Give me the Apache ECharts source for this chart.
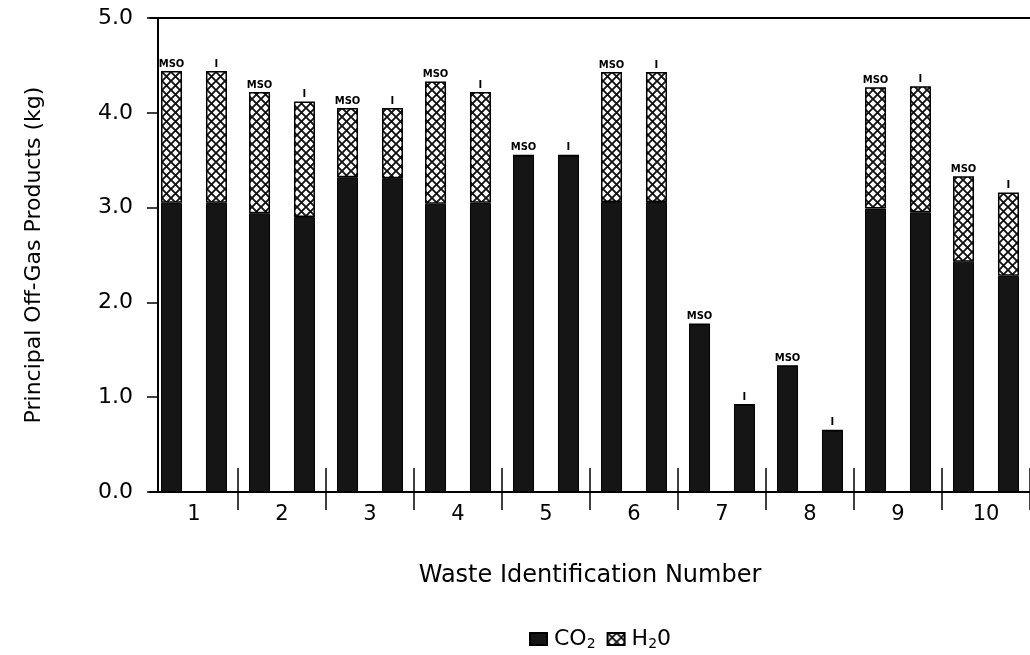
<!DOCTYPE html>
<html><head><meta charset="utf-8">
<script src="https://cdn.jsdelivr.net/npm/echarts@6/dist/echarts.min.js"></script>
<style>html,body{margin:0;padding:0;background:#fff}#c{width:1030px;height:655px}</style>
</head><body><div id="c"></div>
<script>
// ---- data ----
const categories = ['1','2','3','4','5','6','7','8','9','10'];
const co2Mso = [3.05, 2.94, 3.32, 3.04, 3.55, 3.06, 1.77, 1.33, 2.99, 2.43];
const h2oMso = [1.39, 1.28, 0.73, 1.29, 0.00, 1.37, 0.00, 0.00, 1.28, 0.90];
const co2I   = [3.05, 2.90, 3.31, 3.05, 3.55, 3.06, 0.92, 0.65, 2.95, 2.28];
const h2oI   = [1.39, 1.22, 0.74, 1.17, 0.00, 1.37, 0.00, 0.00, 1.33, 0.88];
const yTickLabels = ['0.0','1.0','2.0','3.0','4.0','5.0'];
const barTags = ['MSO','I'];

function hatch(){
  const s = 9;
  const c = document.createElement('canvas'); c.width = s; c.height = s;
  const g = c.getContext('2d');
  g.fillStyle = '#fff'; g.fillRect(0,0,s,s);
  g.strokeStyle = '#111'; g.lineWidth = 1.9;
  g.beginPath();
  g.moveTo(-1,-1); g.lineTo(s+1,s+1);
  g.moveTo(s+1,-1); g.lineTo(-1,s+1);
  g.stroke();
  return c;
}
const hatchFill = {image: hatch(), repeat: 'repeat'};
const FONT = 'DejaVu Sans';
const dark = '#151515';

const chart = echarts.init(document.getElementById('c'), null, {renderer:'canvas'});
const tickHide = (i) => i !== 0;
const barCommon = {type:'bar', barWidth:21, barGap:'114%'};
const tagLabel = (t) => ({show:true, position:'top', distance:2, formatter:t, color:'#000',
  fontSize:10, fontWeight:'bold', fontFamily:FONT});

chart.setOption({
  animation:false,
  backgroundColor:'#fff',
  grid:{left:150, right:-13, top:18, bottom:163, containLabel:false},
  legend:{
    data:['CO2','H20'], left:524, top:623, itemWidth:17, itemHeight:12, itemGap:11,
    icon:'rect', selectedMode:false,
    formatter:(n)=> n==='CO2' ? 'CO{s|2}' : 'H{s|2}0',
    textStyle:{color:'#000', fontSize:22, fontFamily:FONT, padding:[0,0,0,2],
      rich:{s:{fontSize:14, fontFamily:FONT, color:'#000', padding:[10,0,0,0]}}}
  },
  xAxis:[
    {type:'category', data:categories, position:'bottom',
     axisLine:{show:true, lineStyle:{color:'#000', width:2}},
     axisTick:{show:true, length:18, interval:tickHide, lineStyle:{color:'#000', width:1.5}},
     axisLabel:{color:'#000', fontSize:21, margin:12, fontFamily:FONT},
     name:'Waste Identification Number', nameLocation:'middle', nameGap:72,
     nameTextStyle:{color:'#000', fontSize:24, fontFamily:FONT}},
    {type:'category', data:categories, position:'bottom',
     axisLine:{show:false},
     axisTick:{show:true, inside:true, length:24, interval:tickHide, lineStyle:{color:'#000', width:1.5}},
     axisLabel:{show:false}},
    {type:'category', data:categories, position:'top',
     axisLine:{show:true, lineStyle:{color:'#000', width:2}},
     axisTick:{show:false}, axisLabel:{show:false}}
  ],
  yAxis:{
    type:'value', min:0, max:5, interval:1, offset:-8,
    axisLine:{show:true, lineStyle:{color:'#000', width:2}},
    axisTick:{show:true, length:11, lineStyle:{color:'#000', width:1.5}},
    splitLine:{show:false},
    axisLabel:{color:'#000', fontSize:22, margin:25, fontFamily:FONT,
      formatter:(v)=> yTickLabels[Math.round(v)]},
    name:'Principal Off-Gas Products (kg)', nameLocation:'middle', nameGap:113, nameRotate:90,
    nameTextStyle:{color:'#000', fontSize:22, fontFamily:FONT}
  },
  series:[
    Object.assign({}, barCommon, {name:'CO2', stack:'mso', data:co2Mso,
      itemStyle:{color:dark, borderColor:'#000', borderWidth:1}}),
    Object.assign({}, barCommon, {name:'H20', stack:'mso', data:h2oMso,
      itemStyle:{color:hatchFill, borderColor:'#000', borderWidth:1.5},
      label:tagLabel(barTags[0])}),
    Object.assign({}, barCommon, {name:'CO2', stack:'i', data:co2I,
      itemStyle:{color:dark, borderColor:'#000', borderWidth:1}}),
    Object.assign({}, barCommon, {name:'H20', stack:'i', data:h2oI,
      itemStyle:{color:hatchFill, borderColor:'#000', borderWidth:1.5},
      label:tagLabel(barTags[1])})
  ]
});
</script>
</body></html>
